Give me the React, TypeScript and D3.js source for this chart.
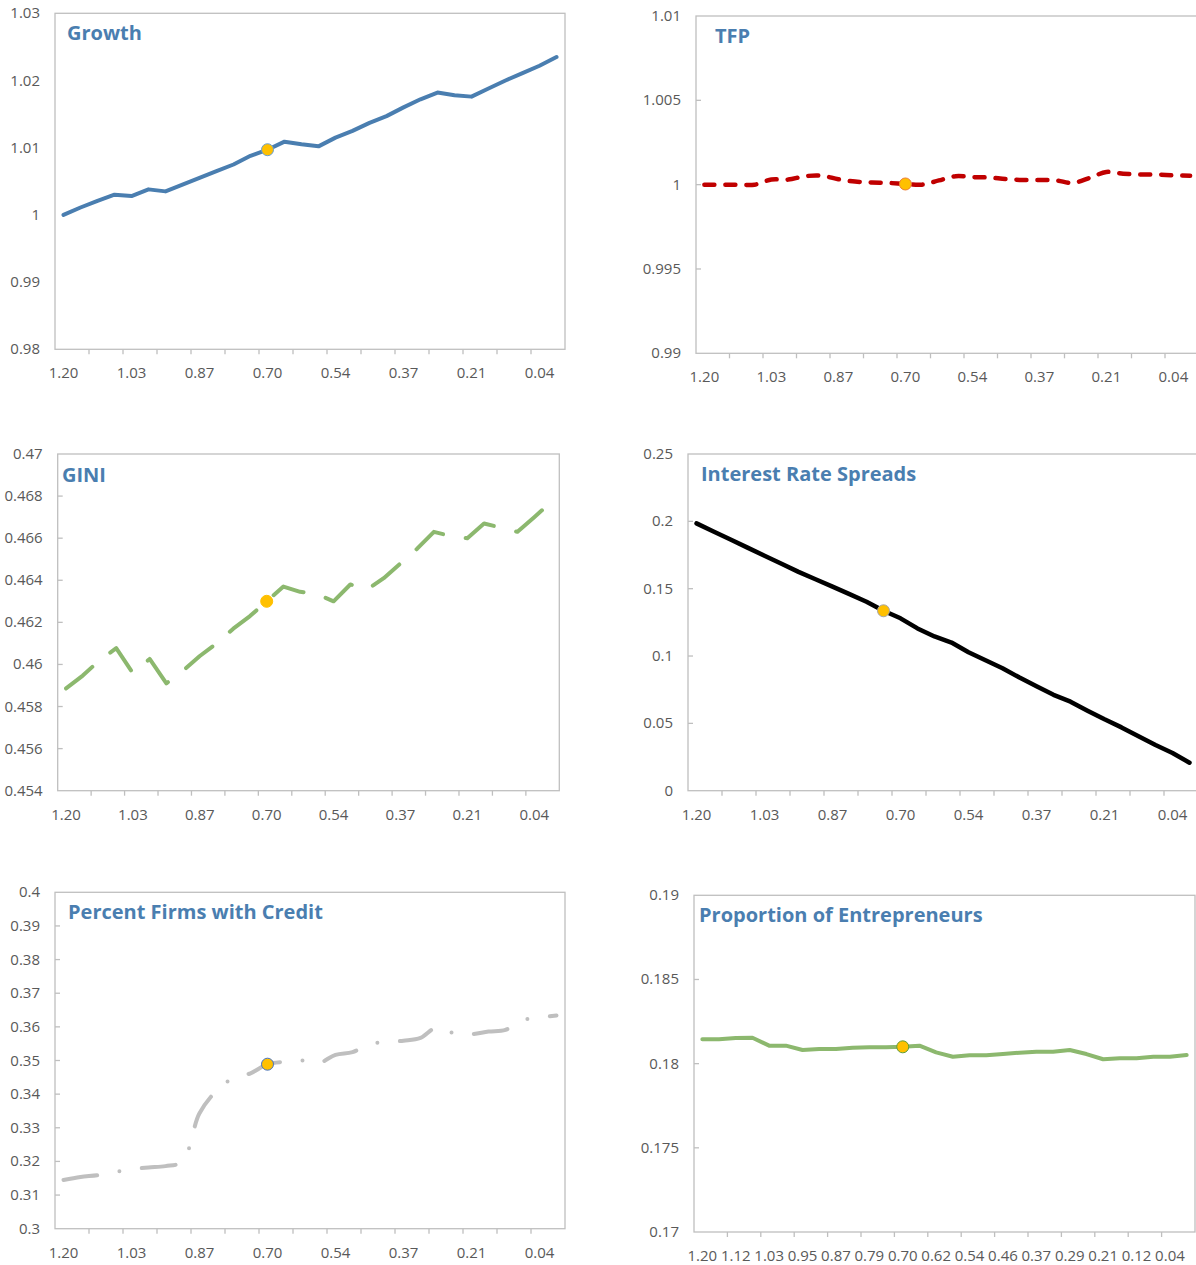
import React from 'react';
import * as d3 from 'd3';

const categories = ["1.20","1.16","1.12","1.08","1.03","0.99","0.95","0.91","0.87","0.83","0.79","0.74","0.70","0.66","0.62","0.58","0.54","0.50","0.46","0.41","0.37","0.33","0.29","0.25","0.21","0.17","0.12","0.08","0.04","0.00"];

const growth = [1.0, 1.0011, 1.0021, 1.003, 1.0028, 1.0038, 1.0035, 1.0045, 1.0055, 1.0065, 1.0075, 1.0088, 1.0097, 1.0109, 1.0105, 1.0102, 1.0115, 1.0125, 1.0137, 1.0147, 1.016, 1.0172, 1.0182, 1.0178, 1.0176, 1.0188, 1.02, 1.0211, 1.0222, 1.0235];
const tfp = [1.0, 1.0, 1.0, 1.0, 1.0003, 1.0003, 1.0005, 1.00053, 1.00032, 1.00018, 1.00013, 1.0001, 1.00004, 1.0, 1.00025, 1.0005, 1.00045, 1.00042, 1.00033, 1.00028, 1.00028, 1.00025, 1.0001, 1.0004, 1.00075, 1.00065, 1.0006, 1.0006, 1.00055, 1.00053];
const gini = [0.45886, 0.45947, 0.4602, 0.46077, 0.45958, 0.46026, 0.4591, 0.4597, 0.4604, 0.461, 0.4617, 0.4623, 0.463, 0.4637, 0.46345, 0.46335, 0.463, 0.4638, 0.46355, 0.4641, 0.4648, 0.4655, 0.4663, 0.4661, 0.466, 0.4667, 0.4665, 0.4663, 0.467, 0.4677];
const spreads = [0.1985, 0.1925, 0.1865, 0.1805, 0.1745, 0.1685, 0.1625, 0.157, 0.1515, 0.146, 0.1403, 0.1336, 0.128, 0.1205, 0.1145, 0.11, 0.1028, 0.0968, 0.0909, 0.084, 0.0775, 0.0712, 0.0661, 0.0594, 0.053, 0.047, 0.0405, 0.0339, 0.028, 0.0208];
const firmsCredit = [0.3145, 0.3154, 0.3159, 0.3168, 0.3177, 0.3182, 0.3186, 0.32, 0.3343, 0.341, 0.3448, 0.3462, 0.3489, 0.3496, 0.35, 0.3492, 0.3517, 0.3525, 0.3548, 0.3555, 0.3559, 0.3567, 0.36, 0.358, 0.3578, 0.3586, 0.3591, 0.362, 0.3627, 0.3634];
const entrepreneurs = [0.18145, 0.18145, 0.18152, 0.18154, 0.18107, 0.18107, 0.18081, 0.18087, 0.18087, 0.18095, 0.18097, 0.18097, 0.181, 0.18107, 0.18067, 0.18041, 0.1805, 0.1805, 0.18057, 0.18065, 0.18071, 0.18071, 0.18081, 0.18057, 0.18026, 0.18032, 0.18032, 0.18041, 0.18041, 0.18051];

const growthTicks = [0.98, 0.99, 1.0, 1.01, 1.02, 1.03];
const tfpTicks = [0.99, 0.995, 1.0, 1.005, 1.01];
const giniTicks = [0.454, 0.456, 0.458, 0.46, 0.462, 0.464, 0.466, 0.468, 0.47];
const spreadTicks = [0, 0.05, 0.1, 0.15, 0.2, 0.25];
const creditTicks = [0.3, 0.31, 0.32, 0.33, 0.34, 0.35, 0.36, 0.37, 0.38, 0.39, 0.4];
const entreTicks = [0.17, 0.175, 0.18, 0.185, 0.19];

const FONT = "'Open Sans', 'Noto Sans', sans-serif";
const BORDER = '#BFBFBF';
const LABEL = '#595959';
const TITLE = '#4A7EB0';

type Panel = {
  title: string; values: number[]; ticks: number[];
  left: number; right: number; top: number; bottom: number;
  tx: number; ty: number; labelStep: number; markerIdx: number;
  color: string; width: number; dash?: string; smooth?: boolean;
  markerStroke: string; yTicksInside: boolean;
};

const panels: Panel[] = [
  { title: 'Growth', values: growth, ticks: growthTicks, left: 55, right: 565, top: 13.3, bottom: 349.3, tx: 67, ty: 40, labelStep: 4, markerIdx: 12, color: '#4A7EB0', width: 4, markerStroke: '#6A9FD0', yTicksInside: false },
  { title: 'TFP', values: tfp, ticks: tfpTicks, left: 696, right: 1198.5, top: 16, bottom: 353.3, tx: 715, ty: 43, labelStep: 4, markerIdx: 12, color: '#C00000', width: 4.5, dash: '10 11', smooth: true, markerStroke: '#ED7D31', yTicksInside: true },
  { title: 'GINI', values: gini, ticks: giniTicks, left: 57.7, right: 559.3, top: 454, bottom: 790.7, tx: 62, ty: 481.5, labelStep: 4, markerIdx: 12, color: '#8CB86E', width: 4, dash: '34 23', markerStroke: '#FFC000', yTicksInside: true },
  { title: 'Interest Rate Spreads', values: spreads, ticks: spreadTicks, left: 688, right: 1198, top: 454, bottom: 790.7, tx: 701, ty: 481, labelStep: 4, markerIdx: 11, color: '#000000', width: 4.5, markerStroke: '#A6A6A6', yTicksInside: true },
  { title: 'Percent Firms with Credit', values: firmsCredit, ticks: creditTicks, left: 55, right: 565, top: 892.3, bottom: 1228.7, tx: 68, ty: 919, labelStep: 4, markerIdx: 12, color: '#BFBFBF', width: 4, dash: '34 22.6 0 22.6', smooth: true, markerStroke: '#4472C4', yTicksInside: true },
  { title: 'Proportion of Entrepreneurs', values: entrepreneurs, ticks: entreTicks, left: 694, right: 1195, top: 895.3, bottom: 1232, tx: 699, ty: 922, labelStep: 2, markerIdx: 12, color: '#8CB86E', width: 4, markerStroke: '#5E9E3A', yTicksInside: true },
];

const fmt = (v: number) => String(+v.toFixed(4));

function ChartPanel({ p }: { p: Panel }) {
  const x = d3.scaleBand<number>().domain(d3.range(categories.length)).range([p.left, p.right]).padding(0);
  const bw = x.bandwidth();
  const xc = (i: number) => (x(i) as number) + bw / 2;
  const y = d3.scaleLinear().domain([p.ticks[0], p.ticks[p.ticks.length - 1]]).range([p.bottom, p.top]);
  const line = d3.line<number>().x((_, i) => xc(i)).y((v) => y(v));
  if (p.smooth) line.curve(d3.curveCatmullRom.alpha(0.5));
  const d = line(p.values) || '';
  const tickIdx = d3.range(2, categories.length, 2);
  return (
    <g>
      <rect x={p.left} y={p.top} width={p.right - p.left} height={p.bottom - p.top} fill="none" stroke={BORDER} strokeWidth={1.3} />
      {tickIdx.map((i) => (
        <line key={'xt' + i} x1={x(i)} x2={x(i)} y1={p.bottom} y2={p.bottom + 5} stroke={BORDER} strokeWidth={1.3} />
      ))}
      {p.yTicksInside && p.ticks.slice(1, -1).map((t) => (
        <line key={'yt' + t} x1={p.left} x2={p.left + 5} y1={y(t)} y2={y(t)} stroke={BORDER} strokeWidth={1.3} />
      ))}
      {categories.map((c, i) => i % p.labelStep === 0 ? (
        <text key={'xl' + i} x={xc(i)} y={p.bottom + 29} textAnchor="middle" fontSize={15} fill={LABEL} fontFamily={FONT}>{c}</text>
      ) : null)}
      {p.ticks.map((t) => (
        <text key={'yl' + t} x={p.left - 15} y={y(t) + 5} textAnchor="end" fontSize={15} fill={LABEL} fontFamily={FONT}>{fmt(t)}</text>
      ))}
      <text x={p.tx} y={p.ty} fontSize={20} fontWeight="bold" fill={TITLE} fontFamily={FONT}>{p.title}</text>
      <path d={d} fill="none" stroke={p.color} strokeWidth={p.width} strokeDasharray={p.dash} strokeLinecap="round" strokeLinejoin="round" />
      <circle cx={xc(p.markerIdx)} cy={y(p.values[p.markerIdx])} r={6} fill="#FFC000" stroke={p.markerStroke} strokeWidth={1} />
    </g>
  );
}

export default function App() {
  return (
    <div style={{ position: 'absolute', left: 0, top: 0 }}>
      <svg width={1196} height={1265} style={{ display: 'block', background: '#fff' }}>
        <rect width={1196} height={1265} fill="#fff" />
        {panels.map((p) => <ChartPanel key={p.title} p={p} />)}
      </svg>
    </div>
  );
}
